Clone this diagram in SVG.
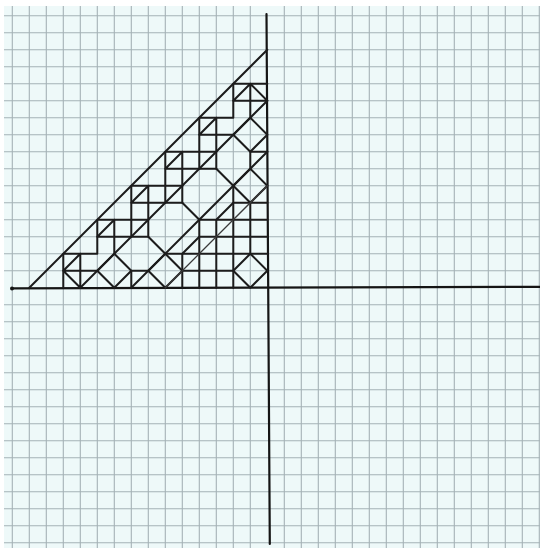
<svg xmlns="http://www.w3.org/2000/svg" width="540" height="548" viewBox="0 0 540 548">
<defs>
<style>
.grid line{stroke:#a5b2b6;stroke-width:1.1}
.ink{fill:none;stroke:#1c1c1c;stroke-width:2;stroke-linejoin:round;stroke-linecap:round;vector-effect:non-scaling-stroke}
.thin{fill:none;stroke:#3a3a3a;stroke-width:1.3;stroke-linecap:round;vector-effect:non-scaling-stroke}
.axis{stroke:#151515;stroke-width:2.2;stroke-linecap:round}
</style>
</defs>
<rect x="0" y="0" width="540" height="548" fill="#ffffff"/>
<rect x="4" y="6" width="536" height="542" fill="#eef9f9"/>
<g class="grid" id="grid">
<line x1="12.3" y1="6" x2="12.3" y2="548"/><line x1="29.3" y1="6" x2="29.3" y2="548"/><line x1="46.3" y1="6" x2="46.3" y2="548"/><line x1="63.3" y1="6" x2="63.3" y2="548"/><line x1="80.3" y1="6" x2="80.3" y2="548"/><line x1="97.3" y1="6" x2="97.3" y2="548"/><line x1="114.3" y1="6" x2="114.3" y2="548"/><line x1="131.3" y1="6" x2="131.3" y2="548"/><line x1="148.3" y1="6" x2="148.3" y2="548"/><line x1="165.3" y1="6" x2="165.3" y2="548"/><line x1="182.3" y1="6" x2="182.3" y2="548"/><line x1="199.3" y1="6" x2="199.3" y2="548"/><line x1="216.3" y1="6" x2="216.3" y2="548"/><line x1="233.3" y1="6" x2="233.3" y2="548"/><line x1="250.3" y1="6" x2="250.3" y2="548"/><line x1="284.3" y1="6" x2="284.3" y2="548"/><line x1="301.3" y1="6" x2="301.3" y2="548"/><line x1="318.3" y1="6" x2="318.3" y2="548"/><line x1="335.3" y1="6" x2="335.3" y2="548"/><line x1="352.3" y1="6" x2="352.3" y2="548"/><line x1="369.3" y1="6" x2="369.3" y2="548"/><line x1="386.3" y1="6" x2="386.3" y2="548"/><line x1="403.3" y1="6" x2="403.3" y2="548"/><line x1="420.3" y1="6" x2="420.3" y2="548"/><line x1="437.3" y1="6" x2="437.3" y2="548"/><line x1="454.3" y1="6" x2="454.3" y2="548"/><line x1="471.3" y1="6" x2="471.3" y2="548"/><line x1="488.3" y1="6" x2="488.3" y2="548"/><line x1="505.3" y1="6" x2="505.3" y2="548"/><line x1="522.3" y1="6" x2="522.3" y2="548"/><line x1="539.3" y1="6" x2="539.3" y2="548"/>
<line x1="4" y1="15.7" x2="540" y2="15.7"/><line x1="4" y1="32.7" x2="540" y2="32.7"/><line x1="4" y1="49.7" x2="540" y2="49.7"/><line x1="4" y1="66.7" x2="540" y2="66.7"/><line x1="4" y1="83.7" x2="540" y2="83.7"/><line x1="4" y1="100.7" x2="540" y2="100.7"/><line x1="4" y1="117.7" x2="540" y2="117.7"/><line x1="4" y1="134.7" x2="540" y2="134.7"/><line x1="4" y1="151.7" x2="540" y2="151.7"/><line x1="4" y1="168.7" x2="540" y2="168.7"/><line x1="4" y1="185.7" x2="540" y2="185.7"/><line x1="4" y1="202.7" x2="540" y2="202.7"/><line x1="4" y1="219.7" x2="540" y2="219.7"/><line x1="4" y1="236.7" x2="540" y2="236.7"/><line x1="4" y1="253.7" x2="540" y2="253.7"/><line x1="4" y1="270.7" x2="540" y2="270.7"/><line x1="4" y1="304.7" x2="540" y2="304.7"/><line x1="4" y1="321.7" x2="540" y2="321.7"/><line x1="4" y1="338.7" x2="540" y2="338.7"/><line x1="4" y1="355.7" x2="540" y2="355.7"/><line x1="4" y1="372.7" x2="540" y2="372.7"/><line x1="4" y1="389.7" x2="540" y2="389.7"/><line x1="4" y1="406.7" x2="540" y2="406.7"/><line x1="4" y1="423.7" x2="540" y2="423.7"/><line x1="4" y1="440.7" x2="540" y2="440.7"/><line x1="4" y1="457.7" x2="540" y2="457.7"/><line x1="4" y1="474.7" x2="540" y2="474.7"/><line x1="4" y1="491.7" x2="540" y2="491.7"/><line x1="4" y1="508.7" x2="540" y2="508.7"/><line x1="4" y1="525.7" x2="540" y2="525.7"/><line x1="4" y1="542.7" x2="540" y2="542.7"/>
</g>
<g id="axes">
<line class="axis" x1="12" y1="288.4" x2="540" y2="286.8"/>
<circle cx="12" cy="288.4" r="2" fill="#151515"/>
<line class="axis" x1="266.5" y1="14" x2="269.8" y2="544"/>
</g>
<g id="figure" transform="matrix(-17 0 0 -17 267.3 287.7)">
<g id="outline">
<path class="ink" d="M14,0 L0,14"/>
<path class="ink" d="M0,12 L2,12 L2,10 L4,10 L4,8 L6,8 L6,6 L8,6 L8,4 L10,4 L10,2 L12,2 L12,0"/>
</g>
<g id="blocks">
<path class="ink" d="M0,11 L2,11 M1,10 L1,12 M2,11 L1,12 L0,11"/>
<path class="ink" d="M2,9 L4,9 M3,8 L3,10 M4,9 L3,10"/>
<path class="ink" d="M4,7 L6,7 M5,6 L5,8 M6,7 L5,8"/>
<path class="ink" d="M6,5 L8,5 M7,4 L7,6 M8,5 L7,6"/>
<path class="ink" d="M8,3 L10,3 M9,2 L9,4 M10,3 L9,4"/>
<path class="ink" d="M10,1 L12,1 M11,0 L11,2 M11,2 L12,1 L11,0"/>
</g>
<g id="diamonds">
<path class="ink" d="M10,1 L9,0 L8,1 L9,2 Z"/>
<path class="ink" d="M1,10 L0,9 L1,8 L2,9 Z"/>
<path class="ink" d="M7,1 L6,0 L5,1 L6,2 Z"/>
<path class="ink" d="M1,7 L0,6 L1,5 L2,6 Z"/>
<path class="ink" d="M2,1 L1,0 L0,1 L1,2 Z"/>
</g>
<g id="octagons">
<path class="ink" d="M5,2 L6,2 L7,3 L7,4 M6,5 L5,5 L4,4 L4,3 L5,2"/>
<path class="ink" d="M2,5 L2,6 L3,7 L4,7 M5,6 L5,5 M4,4 L3,4 L2,5"/>
</g>
<g id="squares">
<path class="ink" d="M2,1 L5,1 M0,2 L5,2 M0,3 L4,3 M0,4 L3,4 M0,5 L2,5 M1,2 L1,5 M2,0 L2,5 M3,0 L3,4 M4,0 L4,3 M5,0 L5,2"/>
</g>
<g id="connectors">
<path class="ink" d="M0,11 L11,0"/>
<path class="ink" d="M0,8 L8,0"/>
<path class="thin" d="M0,6 L6,0"/>
<path class="ink" d="M8,0 L8,1 L7,1 M0,8 L1,8 L1,7"/>
<path class="ink" d="M4,8 L4,7 M4,8 L3,8 L3,7 M6,6 L6,5 M6,6 L5,6 M8,4 L8,3 L7,3 M8,4 L7,4"/>
</g>
</g>
</svg>
